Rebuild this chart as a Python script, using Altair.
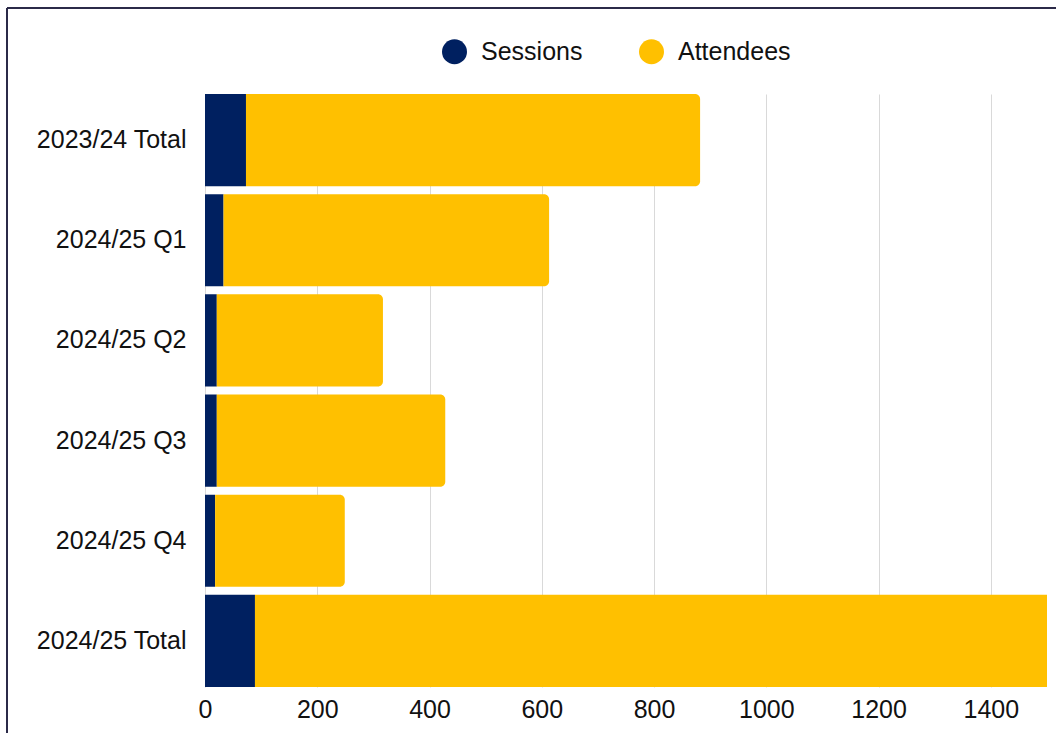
import altair as alt
import pandas as pd

categories = ["2023/24 Total", "2024/25 Q1", "2024/25 Q2", "2024/25 Q3", "2024/25 Q4", "2024/25 Total"]
sessions = [73, 33, 21, 21, 18, 89]
attendees = [809, 580, 296, 407, 231, 1514]
series = ["Sessions", "Attendees"]
colors = ["#002060", "#FFC000"]
x_ticks = [0, 200, 400, 600, 800, 1000, 1200, 1400]

rows = []
for c, s, a in zip(categories, sessions, attendees):
    rows.append({"category": c, "series": "Sessions", "start": 0, "end": s})
    rows.append({"category": c, "series": "Attendees", "start": s, "end": s + a})
df = pd.DataFrame(rows)

FONT = "Liberation Sans"
FS = 25
PLOT_W, PLOT_H = 842, 593
PAD_L, PAD_T = 205, 94

x_enc = alt.X("start:Q", title=None,
              scale=alt.Scale(domain=[0, 1500], nice=False, zero=True),
              axis=alt.Axis(values=x_ticks, format="d", grid=True, gridColor="#d9d9d9", gridWidth=1,
                            ticks=False, tickSize=0, domain=False, labelFont=FONT,
                            labelFlush=False, labelFontSize=FS, labelColor="#111111",
                            labelPadding=10))
y_enc = alt.Y("category:N", title=None, sort=categories,
              scale=alt.Scale(paddingInner=0.08, paddingOuter=0),
              axis=alt.Axis(ticks=False, tickSize=0, domain=False, labelFont=FONT,
                            labelFontSize=FS, labelColor="#111111", labelPadding=19,
                            labelLimit=300))
color_enc = alt.Color("series:N", title=None,
                      scale=alt.Scale(domain=series, range=colors),
                      legend=alt.Legend(orient="none", direction="horizontal",
                                        legendX=237, legendY=-55,
                                        symbolType="circle", symbolSize=625,
                                        symbolStrokeWidth=0, symbolOpacity=1,
                                        labelFont=FONT, labelFontSize=FS,
                                        labelColor="#111111", labelOffset=14,
                                        columnPadding=56, padding=0, labelLimit=300))

base = alt.Chart(df)
bars_s = base.transform_filter(alt.datum.series == "Sessions").mark_bar(clip=True).encode(
    x=x_enc, x2="end:Q", y=y_enc, color=color_enc)
bars_a = base.transform_filter(alt.datum.series == "Attendees").mark_bar(
    clip=True, cornerRadiusTopRight=5, cornerRadiusBottomRight=5).encode(
    x=x_enc, x2="end:Q", y=y_enc, color=color_enc)

frame_df = pd.DataFrame({"k": [0]})
left_line = alt.Chart(frame_df).mark_rule(color="#2b2a48", strokeWidth=2).encode(
    x=alt.value(7 - PAD_L), y=alt.value(8 - PAD_T), y2=alt.value(733 - PAD_T))
top_line = alt.Chart(frame_df).mark_rule(color="#2b2a48", strokeWidth=2).encode(
    x=alt.value(7 - PAD_L), x2=alt.value(1056 - PAD_L), y=alt.value(8 - PAD_T))

chart = alt.layer(bars_s, bars_a, left_line, top_line).properties(
    width=PLOT_W, height=PLOT_H,
    autosize=alt.AutoSizeParams(type="none"),
    padding={"left": PAD_L, "top": PAD_T, "right": 1056 - PAD_L - PLOT_W, "bottom": 733 - PAD_T - PLOT_H},
    background="white",
).configure_view(stroke=None)

chart.save("out.html", embed_options={"renderer": "svg", "actions": False})
